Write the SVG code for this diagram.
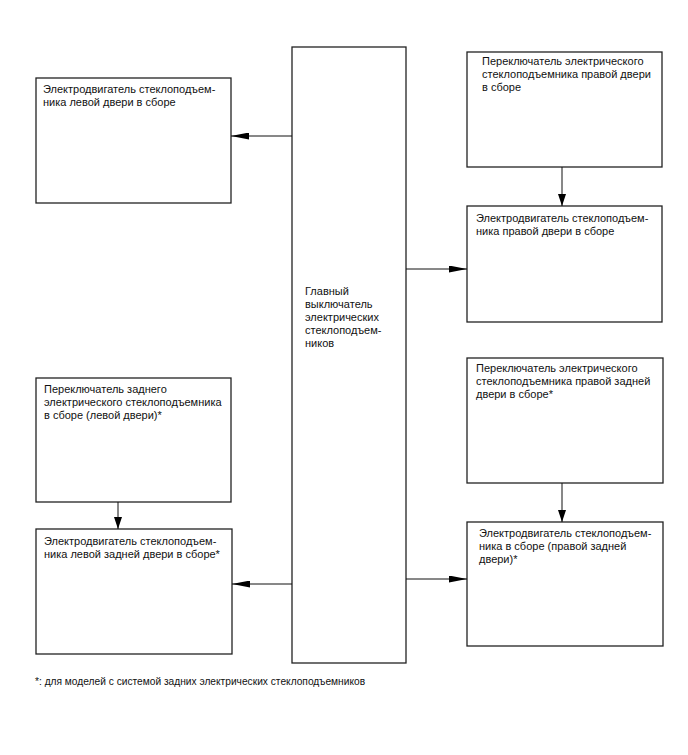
<svg xmlns="http://www.w3.org/2000/svg" width="688" height="755" viewBox="0 0 688 755">
<style>
.box{fill:#fff;stroke:#222;stroke-width:1.3}
.t{font-family:"Liberation Sans",Arial,sans-serif;font-size:11px;fill:#111}
.fn{font-family:"Liberation Sans",Arial,sans-serif;font-size:10.2px;fill:#111}
.c{fill:none;stroke:#111;stroke-width:1}
</style>
<defs>
<marker id="ah" markerUnits="userSpaceOnUse" markerWidth="18" markerHeight="7" refX="18" refY="3.5" orient="auto">
<path d="M0,0 L18,3.5 L0,7 Z" fill="#000"/>
</marker>
<marker id="av" markerUnits="userSpaceOnUse" markerWidth="12" markerHeight="8" refX="12" refY="4" orient="auto">
<path d="M0,0 L12,4 L0,8 Z" fill="#000"/>
</marker>
</defs>
<rect width="688" height="755" fill="#fff"/>
<g id="main">
<rect class="box" x="292" y="47" width="114" height="616"/>
<text class="t" x="305" y="295">Главный</text>
<text class="t" x="305" y="308">выключатель</text>
<text class="t" x="305" y="321">электрических</text>
<text class="t" x="305" y="334">стеклоподъем-</text>
<text class="t" x="305" y="347">ников</text>
</g>
<g id="motor-left-front">
<rect class="box" x="36" y="78" width="195" height="125"/>
<text class="t" x="43" y="93">Электродвигатель стеклоподъем-</text>
<text class="t" x="43" y="106">ника левой двери в сборе</text>
</g>
<g id="switch-right-front">
<rect class="box" x="467" y="52" width="195" height="115"/>
<text class="t" x="482" y="65">Переключатель электрического</text>
<text class="t" x="482" y="78">стеклоподъемника правой двери</text>
<text class="t" x="482" y="91">в сборе</text>
</g>
<g id="motor-right-front">
<rect class="box" x="467" y="206" width="195" height="116"/>
<text class="t" x="476" y="222">Электродвигатель стеклоподъем-</text>
<text class="t" x="476" y="235">ника правой двери в сборе</text>
</g>
<g id="switch-left-rear">
<rect class="box" x="36" y="378" width="195" height="124"/>
<text class="t" x="44" y="393">Переключатель заднего</text>
<text class="t" x="44" y="406">электрического стеклоподъемника</text>
<text class="t" x="44" y="419">в сборе (левой двери)*</text>
</g>
<g id="motor-left-rear">
<rect class="box" x="36" y="529" width="196" height="125"/>
<text class="t" x="44" y="545">Электродвигатель стеклоподъем-</text>
<text class="t" x="44" y="558">ника левой задней двери в сборе*</text>
</g>
<g id="switch-right-rear">
<rect class="box" x="467" y="358" width="196" height="125"/>
<text class="t" x="476" y="372">Переключатель электрического</text>
<text class="t" x="476" y="385">стеклоподъемника правой задней</text>
<text class="t" x="476" y="398">двери в сборе*</text>
</g>
<g id="motor-right-rear">
<rect class="box" x="467" y="522" width="196" height="124"/>
<text class="t" x="479" y="537">Электродвигатель стеклоподъем-</text>
<text class="t" x="479" y="550">ника в сборе (правой задней</text>
<text class="t" x="479" y="563">двери)*</text>
</g>
<g id="connectors">
<line class="c" x1="292" y1="136" x2="231" y2="136" marker-end="url(#ah)"/>
<line class="c" x1="562" y1="167" x2="562" y2="206" marker-end="url(#av)"/>
<line class="c" x1="406" y1="269" x2="467" y2="269" marker-end="url(#ah)"/>
<line class="c" x1="118" y1="502" x2="118" y2="529" marker-end="url(#av)"/>
<line class="c" x1="292" y1="584" x2="232" y2="584" marker-end="url(#ah)"/>
<line class="c" x1="562" y1="483" x2="562" y2="522" marker-end="url(#av)"/>
<line class="c" x1="406" y1="579" x2="467" y2="579" marker-end="url(#ah)"/>
</g>
<text class="fn" x="35" y="685">*: для моделей с системой задних электрических стеклоподъемников</text>
</svg>
